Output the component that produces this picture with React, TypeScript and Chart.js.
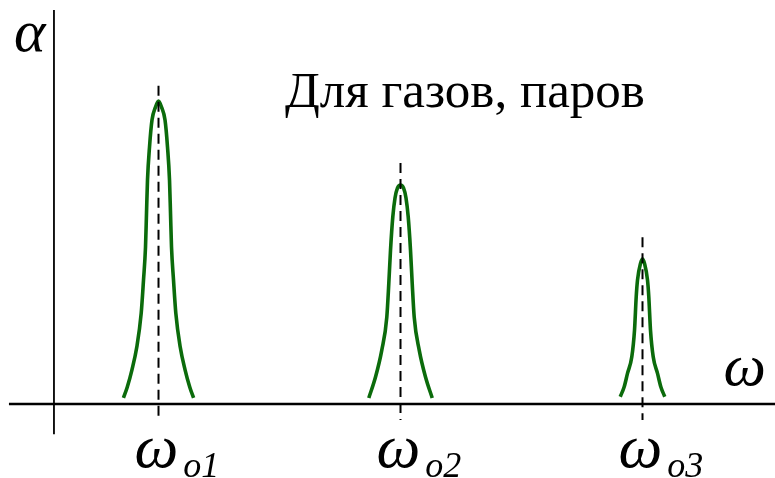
import React, { useEffect, useRef } from "react";
import { Chart, registerables } from "chart.js";

Chart.register(...registerables);

// ω positions of the three resonance peaks (arbitrary units)
const peakCenters = [1, 2, 3];
const peakSubscripts = ["o1", "o2", "o3"];

// Absorption curves α(ω)
const peak1X = [0.855, 0.871, 0.89, 0.9103, 0.9285, 0.938, 0.9463, 0.9504, 0.9545, 0.9628, 0.9731, 0.9876, 1.0, 1.0124, 1.0269, 1.0372, 1.0455, 1.0496, 1.0537, 1.062, 1.0715, 1.0897, 1.11, 1.129, 1.145];
const peak1Y = [2, 5.6, 11.2, 18.8, 30, 40.9, 51.8, 63, 73.9, 84.8, 93.7, 98, 100, 98, 93.7, 84.8, 73.9, 63, 51.8, 40.9, 30, 18.8, 11.2, 5.6, 2];

const peak2X = [1.869, 1.8967, 1.9227, 1.9434, 1.9517, 1.9587, 1.9682, 1.9773, 1.9876, 2.0, 2.0124, 2.0227, 2.0318, 2.0413, 2.0483, 2.0566, 2.0773, 2.1033, 2.131];
const peak2Y = [2, 8.9, 17.8, 28.7, 39.9, 50.8, 61.8, 68, 71.3, 72.3, 71.3, 68, 61.8, 50.8, 39.9, 28.7, 17.8, 8.9, 2];

const peak3X = [2.908, 2.9244, 2.938, 2.9558, 2.967, 2.974, 2.9793, 2.9917, 3.0, 3.0083, 3.0207, 3.026, 3.033, 3.0442, 3.062, 3.0756, 3.092];
const peak3Y = [2.4, 5.7, 10.1, 15.6, 24.4, 35.4, 40.9, 46.4, 47.8, 46.4, 40.9, 35.4, 24.4, 15.6, 10.1, 5.7, 2.4];

// Dashed marker lines at each ω_o: top and bottom α
const markerTops = [105, 79.5, 55];
const markerBottom = -5.3;

// Axes
const yAxisOmega = 0.568;
const yAxisRange = [-10, 130];
const xAxisRange = [0.382, 3.55];

const titleText = "Для газов, паров";
const yAxisLabel = "α";
const xAxisLabel = "ω";

const GREEN = "#0b6b0b";
const SERIF = '"Liberation Serif", "Times New Roman", serif';

function zip(xs: number[], ys: number[]) {
  return xs.map((x, i) => ({ x, y: ys[i] }));
}

const labelPlugin = {
  id: "labels",
  afterDatasetsDraw(chart: any) {
    const ctx = chart.ctx;
    const xs = chart.scales.x;
    const ys = chart.scales.y;
    const axisY = ys.getPixelForValue(0);
    const axisX = xs.getPixelForValue(yAxisOmega);
    ctx.save();
    ctx.fillStyle = "#000";
    ctx.textBaseline = "alphabetic";
    ctx.textAlign = "left";

    // peak labels
    peakCenters.forEach((c, i) => {
      const px = xs.getPixelForValue(c);
      ctx.font = `italic 62px ${SERIF}`;
      const left = px - 24;
      ctx.fillText("ω", left, axisY + 63);
      const w = ctx.measureText("ω").width;
      ctx.font = `italic 36px ${SERIF}`;
      ctx.fillText(peakSubscripts[i], left + w + 5, axisY + 73);
    });

    // axis letters
    ctx.font = `italic 60px ${SERIF}`;
    ctx.fillText(yAxisLabel, axisX - 40, ys.getPixelForValue(yAxisRange[1]) + 41);
    ctx.fillText(xAxisLabel, xs.getPixelForValue(xAxisRange[1]) - 52, axisY - 19);

    // title
    ctx.font = `51px ${SERIF}`;
    ctx.fillText(titleText, axisX + 231, ys.getPixelForValue(yAxisRange[1]) + 97);
    ctx.restore();
  },
};

export default function App() {
  const ref = useRef<HTMLCanvasElement>(null);
  useEffect(() => {
    if (!ref.current) return;
    const curves = [zip(peak1X, peak1Y), zip(peak2X, peak2Y), zip(peak3X, peak3Y)];
    const datasets: any[] = [];
    // axes
    datasets.push({
      data: [
        { x: yAxisOmega, y: yAxisRange[0] },
        { x: yAxisOmega, y: yAxisRange[1] },
      ],
      borderColor: "#000",
      borderWidth: 1.8,
    });
    datasets.push({
      data: [
        { x: xAxisRange[0], y: 0 },
        { x: xAxisRange[1], y: 0 },
      ],
      borderColor: "#000",
      borderWidth: 2.6,
    });
    // dashed markers
    peakCenters.forEach((c, i) => {
      datasets.push({
        data: [
          { x: c, y: markerTops[i] },
          { x: c, y: markerBottom },
        ],
        borderColor: "#000",
        borderWidth: 2,
        borderDash: [10, 6],
      });
    });
    // curves
    curves.forEach((d) => {
      datasets.push({
        data: d,
        borderColor: GREEN,
        borderWidth: 3.6,
        cubicInterpolationMode: "monotone",
      });
    });

    const chart = new Chart(ref.current, {
      type: "line",
      data: { datasets },
      options: {
        animation: false,
        responsive: false,
        devicePixelRatio: 1,
        layout: { padding: 0 },
        parsing: false as any,
        elements: { point: { radius: 0 }, line: { fill: false } },
        plugins: { legend: { display: false }, tooltip: { enabled: false } },
        scales: {
          x: { type: "linear", min: 0.345, max: 3.5475, display: false },
          y: { type: "linear", min: -24.42, max: 133.33, display: false },
        },
      },
      plugins: [labelPlugin],
    });
    return () => chart.destroy();
  }, []);
  return (
    <div style={{ position: "fixed", left: 0, top: 0, width: 775, height: 478, background: "#fff" }}>
      <canvas ref={ref} width={775} height={478} />
    </div>
  );
}
